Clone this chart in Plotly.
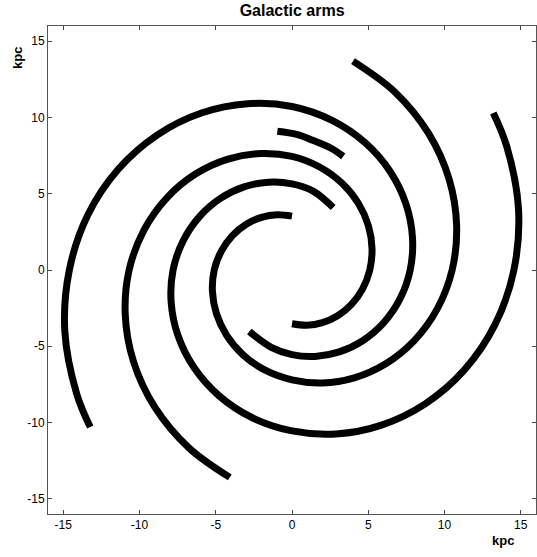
import plotly.graph_objects as go

# points (kpc)
arm1_x = [0.0, -0.971, -1.996, -3.000, -3.907, -4.633, -5.10, -5.218, -4.955, -4.286, -3.210,
          -1.760, 0.0, 1.984, 4.083, 6.148, 8.018, 9.524, 10.50, 10.796, 10.304, 8.956, 6.742, 4.0]
arm1_y = [3.53, 3.625, 3.456, 3.000, 2.256, 1.242, 0.0, -1.398, -2.861, -4.286, -5.560,
          -6.568, -7.20, -7.406, -7.071, -6.148, -4.630, -2.552, 0.0, 2.893, 5.949, 8.956, 11.677, 13.7]

arm2_x = [2.7, 1.386, 0.0, -1.543, -3.146, -4.694, -6.066, -7.139, -7.80, -7.923, -7.470,
          -6.414, -4.770, -2.596, 0.0, 2.881, 5.871, 8.760, 11.318, 13.318, 14.55, 14.854,
          14.075, 13.2]
arm2_y = [4.1, 5.172, 5.65, 5.759, 5.448, 4.694, 3.502, 1.913, 0.0, -2.123, -4.313,
          -6.414, -8.261, -9.690, -10.55, -10.751, -10.169, -8.760, -6.535, -3.568, 0.0, 3.980,
          8.127, 10.3]

arm3_x = [0.0, 0.969, 1.991, 2.995, 3.902, 4.631, 5.10, 5.247, 5.012, 4.359, 3.283, 1.810,
          0.0, -2.047, -4.200, -6.308, -8.204, -9.716, -10.68, -10.936, -10.395, -8.997,
          -6.744, -4.08]
arm3_y = [-3.52, -3.616, -3.449, -2.995, -2.253, -1.241, 0.0, 1.406, 2.893, 4.359, 5.686,
          6.756, 7.45, 7.641, 7.275, 6.308, 4.736, 2.603, 0.0, -2.930, -6.001, -8.997,
          -11.682, -13.6]

arm4_x = [-2.80, -1.359, 0.0, 1.518, 3.101, 4.637, 6.004, 7.080, 7.75, 7.901, 7.477, 6.445,
          4.810, 2.628, 0.0, -2.921, -5.942, -8.848, -11.410, -13.399, -14.60, -14.898,
          -14.110, -13.23]
arm4_y = [-4.03, -5.071, -5.55, -5.667, -5.372, -4.637, -3.467, -1.897, 0.0, 2.117, 4.317,
          6.445, 8.331, 9.808, 10.72, 10.902, 10.292, 8.848, 6.588, 3.590, 0.0, -3.992,
          -8.147, -10.3]

spur_x = [-0.96, 0.31, 1.30, 2.59, 3.36]
spur_y = [9.10, 8.89, 8.53, 7.97, 7.45]

tick_vals = [-15, -10, -5, 0, 5, 10, 15]
tick_text = ["-15", "-10", "-5", "0", "5", "10", "15"]

fig = go.Figure()
for xs, ys in [(arm1_x, arm1_y), (arm2_x, arm2_y), (arm3_x, arm3_y),
               (arm4_x, arm4_y), (spur_x, spur_y)]:
    fig.add_trace(go.Scatter(x=xs, y=ys, mode="lines",
                             line=dict(color="black", width=7, shape="spline"),
                             showlegend=False, hoverinfo="skip"))

axis_style = dict(range=[-16, 16], tickvals=tick_vals, ticktext=tick_text,
                  ticks="inside", ticklen=4, tickcolor="#444", showline=True,
                  linecolor="#555", linewidth=1, mirror="ticks", showgrid=False,
                  zeroline=False, tickfont=dict(size=12, color="black"))

fig.update_layout(
    width=537, height=557,
    margin=dict(l=48, r=1, t=26, b=43),
    paper_bgcolor="white", plot_bgcolor="white",
    font=dict(family="Liberation Sans, Arial, sans-serif", color="black"),
    title=dict(text="<b>Galactic arms</b>", x=0.544, xanchor="center",
               y=0.981, yanchor="middle", font=dict(size=16)),
    xaxis=axis_style, yaxis=axis_style,
    annotations=[
        dict(text="<b>kpc</b>", xref="paper", yref="paper", x=0.958, y=-0.073,
             showarrow=False, font=dict(size=13)),
        dict(text="<b>kpc</b>", xref="paper", yref="paper", x=-0.082, y=0.962,
             showarrow=False, textangle=-90, font=dict(size=13)),
    ],
)

# page body has a default 8px margin; drop it so the figure sits at the corner
fig.write_html("out.html", config={"displayModeBar": False},
               post_script="document.body.style.margin='0';")
